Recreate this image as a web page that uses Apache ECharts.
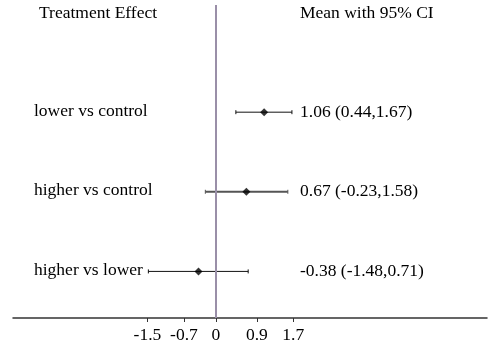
<!DOCTYPE html>
<html>
<head>
<meta charset="utf-8">
<script src="https://cdn.jsdelivr.net/npm/echarts@6/dist/echarts.min.js"></script>
<style>html,body{margin:0;padding:0;background:#fff}#c{width:500px;height:344px}</style>
</head>
<body>
<div id="c"></div>
<script>
const categories = ['lower vs control', 'higher vs control', 'higher vs lower'];
const means = [1.06, 0.67, -0.38];
const lowerCI = [0.44, -0.23, -1.48];
const upperCI = [1.67, 1.58, 0.71];
const rowPos = [3, 2, 1];
const tickValues = [-1.5, -0.7, 0, 0.9, 1.7];
const headerLeft = 'Treatment Effect';
const headerRight = 'Mean with 95% CI';

const FONT = '"Liberation Serif", "Times New Roman", serif';
const FS = 17.5;
const ciText = means.map((m, i) => m.toFixed(2) + ' (' + lowerCI[i].toFixed(2) + ',' + upperCI[i].toFixed(2) + ')');
const lineColors = ['#111', '#555', '#111'];
const lineWidths = [1, 2, 1];

const chart = echarts.init(document.getElementById('c'), null, {renderer: 'canvas'});
chart.setOption({
  animation: false,
  backgroundColor: '#fff',
  title: [
    {text: headerLeft, left: 39, top: 4, padding: 0,
     textStyle: {fontFamily: FONT, fontSize: FS, fontWeight: 'normal', color: '#000'}},
    {text: headerRight, left: 300, top: 4, padding: 0,
     textStyle: {fontFamily: FONT, fontSize: FS, fontWeight: 'normal', color: '#000'}}
  ],
  grid: {left: 13, right: 13, top: 5, bottom: 26},
  xAxis: {
    type: 'value', min: -4.45, max: 5.95,
    splitLine: {show: false},
    axisLine: {show: true, onZero: false, lineStyle: {color: '#333', width: 1.5}},
    axisTick: {show: true, customValues: tickValues, length: 4, lineStyle: {color: '#333'}},
    axisLabel: {customValues: tickValues, margin: 8, fontFamily: FONT, fontSize: FS, color: '#000',
      formatter: v => String(v)}
  },
  yAxis: {type: 'value', min: 0.415, max: 4.346, show: false},
  series: [
    {
      type: 'custom',
      data: categories.map((c, i) => [lowerCI[i], upperCI[i], rowPos[i], i]),
      encode: {x: [0, 1], y: 2},
      renderItem: function (params, api) {
        const lo = api.value(0), hi = api.value(1), y = api.value(2), i = api.value(3);
        const p1 = api.coord([lo, y]);
        const p2 = api.coord([hi, y]);
        const cs = params.coordSys;
        const st = {stroke: lineColors[i], lineWidth: lineWidths[i]};
        return {
          type: 'group',
          children: [
            {type: 'line', shape: {x1: p1[0], y1: p1[1], x2: p2[0], y2: p2[1]}, style: st},
            {type: 'line', shape: {x1: p1[0], y1: p1[1] - 2, x2: p1[0], y2: p1[1] + 2}, style: {stroke: lineColors[i], lineWidth: 1}},
            {type: 'line', shape: {x1: p2[0], y1: p2[1] - 2, x2: p2[0], y2: p2[1] + 2}, style: {stroke: lineColors[i], lineWidth: 1}},
            {type: 'text', x: cs.x + 21, y: p1[1] - 1,
             style: {text: categories[i], fontFamily: FONT, fontSize: FS, fill: '#000', textAlign: 'left', textVerticalAlign: 'middle'}},
            {type: 'text', x: cs.x + 287, y: p1[1],
             style: {text: ciText[i], fontFamily: FONT, fontSize: FS, fill: '#000', textAlign: 'left', textVerticalAlign: 'middle'}}
          ]
        };
      },
      markLine: {
        silent: true, symbol: 'none', label: {show: false},
        lineStyle: {color: '#9a8fa8', width: 2, type: 'solid'},
        data: [{xAxis: 0}]
      },
      z: 2
    },
    {
      type: 'scatter',
      symbol: 'diamond', symbolSize: 8,
      itemStyle: {color: '#000'},
      data: means.map((m, i) => [m, rowPos[i]]),
      z: 5
    }
  ]
});
</script>
</body>
</html>
